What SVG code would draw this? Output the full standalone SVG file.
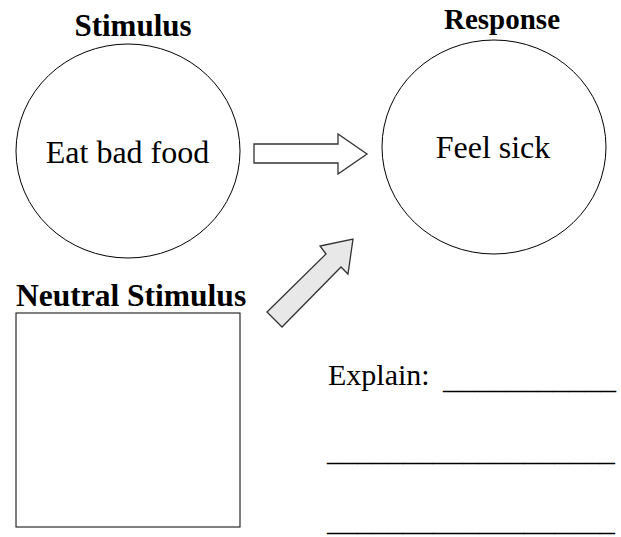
<svg xmlns="http://www.w3.org/2000/svg" width="621" height="537" viewBox="0 0 621 537">
<style>
.t{font-family:"Liberation Serif","Times New Roman",serif;fill:#000}
.b{font-weight:bold}
.shape{fill:#fff;stroke:#000;stroke-width:1}
.arrow{stroke:#333;stroke-width:1.3;stroke-linejoin:miter}
</style>
<rect width="621" height="537" fill="#fff"/>
<g id="stimulus">
<ellipse class="shape" cx="128" cy="151" rx="112" ry="107"/>
<text class="t b" x="133" y="36" font-size="31" text-anchor="middle">Stimulus</text>
<text class="t" x="127.5" y="163" font-size="32" text-anchor="middle">Eat bad food</text>
</g>
<g id="response">
<ellipse class="shape" cx="494" cy="147" rx="112" ry="107"/>
<text class="t b" x="502" y="29" font-size="29" text-anchor="middle">Response</text>
<text class="t" x="493" y="158" font-size="32" text-anchor="middle">Feel sick</text>
</g>
<g id="neutral">
<rect class="shape" x="16" y="313" width="224" height="214"/>
<text class="t b" x="16" y="306" font-size="31.5">Neutral Stimulus</text>
</g>
<g id="connectors">
<polygon class="arrow" fill="#fff" points="254,144 338,144 338,134 367,154 338,174 338,163 254,163"/>
<polygon class="arrow" fill="#e8e8e8" points="267,312 326,254 320,246 353,239 348,274 341,267 282,327"/>
</g>
<g id="explain">
<text class="t" x="328" y="385" font-size="30">Explain:</text>
<text class="t" x="443" y="389" font-size="30" textLength="173" lengthAdjust="spacingAndGlyphs">___________</text>
<text class="t" x="327" y="461" font-size="30" textLength="288" lengthAdjust="spacingAndGlyphs">___________________</text>
<text class="t" x="327" y="531" font-size="30" textLength="288" lengthAdjust="spacingAndGlyphs">___________________</text>
</g>
</svg>
